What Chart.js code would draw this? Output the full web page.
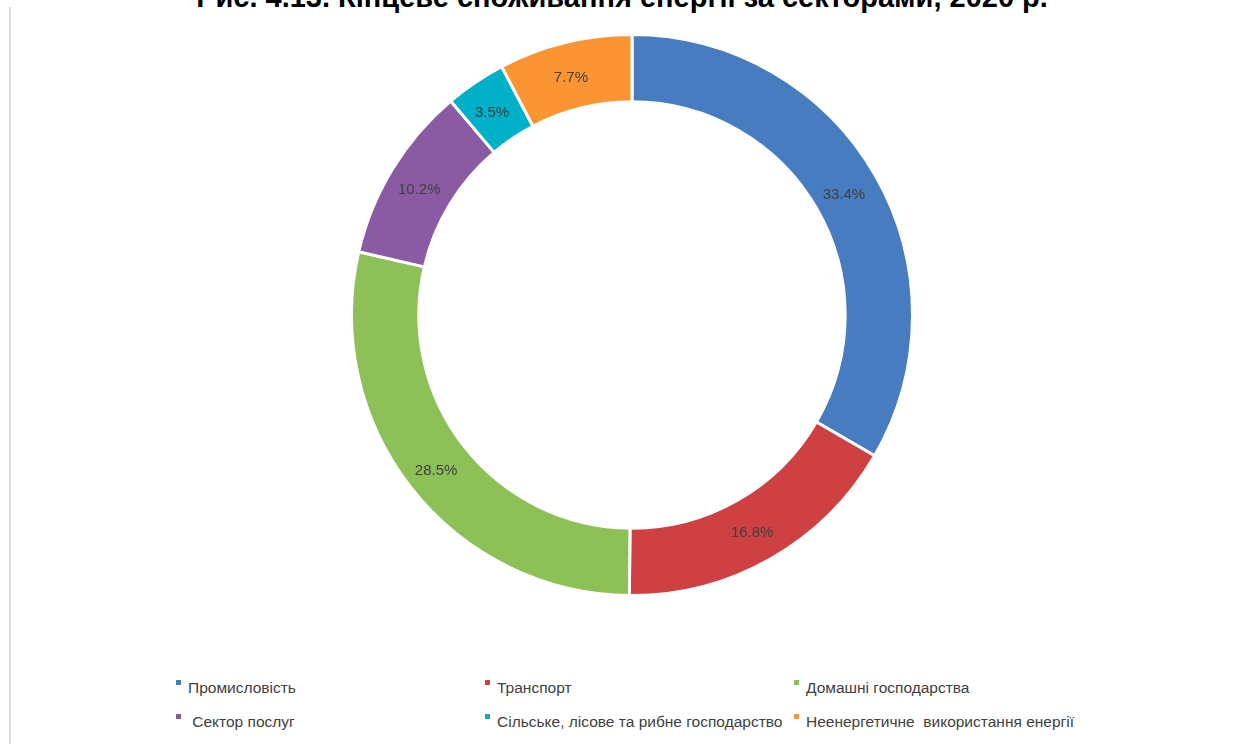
<!DOCTYPE html>
<html lang="uk">
<head>
  <meta charset="UTF-8">
  <title>Кінцеве споживання енергії за секторами</title>
  <script src="https://cdn.jsdelivr.net/npm/chart.js"></script>
  <style>
    body {
      margin: 0;
      width: 1246px;
      height: 744px;
      background: #fff;
      overflow: hidden;
      position: relative;
      font-family: "Liberation Sans", Arial, sans-serif;
    }
    .frame {
      position: absolute;
      left: 9px;
      top: 7px;
      width: 2px;
      height: 760px;
      background: #dcdcdc;
    }
    .title {
      position: absolute;
      left: 0;
      width: 1244px;
      top: -19px;
      text-align: center;
      font-weight: bold;
      font-size: 29px;
      color: #000;
      white-space: nowrap;
    }
    .chart-box {
      position: absolute;
      left: 332px;
      top: 15px;
      width: 600px;
      height: 600px;
    }
    .legend {
      position: absolute;
      left: 176px;
      top: 679px;
      display: grid;
      grid-template-columns: 309px 309px 309px;
      row-gap: 16px;
    }
    .legend-item {
      font-size: 15.5px;
      color: #404040;
      white-space: pre;
      line-height: 18px;
    }
    .legend-item span {
      display: inline-block;
      width: 5px;
      height: 5px;
      margin-right: 7px;
      vertical-align: 8px;
    }
  </style>
</head>
<body>

  <div class="frame"></div>
  <div class="title" id="chartTitle"></div>

  <div class="chart-box">
    <canvas id="energyChart"></canvas>
  </div>

  <div class="legend" id="legend"></div>

  <script>
    const titleText = 'Рис. 4.13. Кінцеве споживання енергії за секторами, 2020 р.';
    const sectors = ['Промисловість', 'Транспорт', 'Домашні господарства',
                     ' Сектор послуг', 'Сільське, лісове та рибне господарство',
                     'Неенергетичне  використання енергії'];
    const shares = [33.4, 16.8, 28.5, 10.2, 3.5, 7.7];
    const colors = ['#477cc0', '#cf4043', '#8dc157', '#8a5ba3', '#00b0c9', '#fb9433'];

    document.getElementById('chartTitle').innerText = titleText;

    // легенда у три колонки
    const legend = document.getElementById('legend');
    sectors.forEach((name, i) => {
      const item = document.createElement('div');
      item.className = 'legend-item';
      const mark = document.createElement('span');
      mark.style.background = colors[i];
      item.appendChild(mark);
      item.appendChild(document.createTextNode(name));
      legend.appendChild(item);
    });

    // підписи відсотків усередині сегментів
    const sliceLabels = {
      id: 'sliceLabels',
      afterDatasetsDraw(chart) {
        const ctx = chart.ctx;
        const meta = chart.getDatasetMeta(0);
        ctx.save();
        ctx.font = '15px "Liberation Sans", Arial, sans-serif';
        ctx.fillStyle = '#404040';
        ctx.textAlign = 'center';
        ctx.textBaseline = 'middle';
        meta.data.forEach((arc, i) => {
          const p = arc.tooltipPosition();
          ctx.fillText(shares[i].toFixed(1) + '%', p.x - 2, p.y + 3);
        });
        ctx.restore();
      }
    };

    new Chart(document.getElementById('energyChart'), {
      type: 'doughnut',
      data: {
        labels: sectors,
        datasets: [{
          data: shares,
          backgroundColor: colors,
          borderColor: '#ffffff',
          borderWidth: 3
        }]
      },
      options: {
        responsive: true,
        maintainAspectRatio: false,
        animation: false,
        cutout: '76%',
        layout: { padding: 18 },
        plugins: {
          legend: { display: false },
          tooltip: { enabled: false }
        }
      },
      plugins: [sliceLabels]
    });
  </script>

</body>
</html>
